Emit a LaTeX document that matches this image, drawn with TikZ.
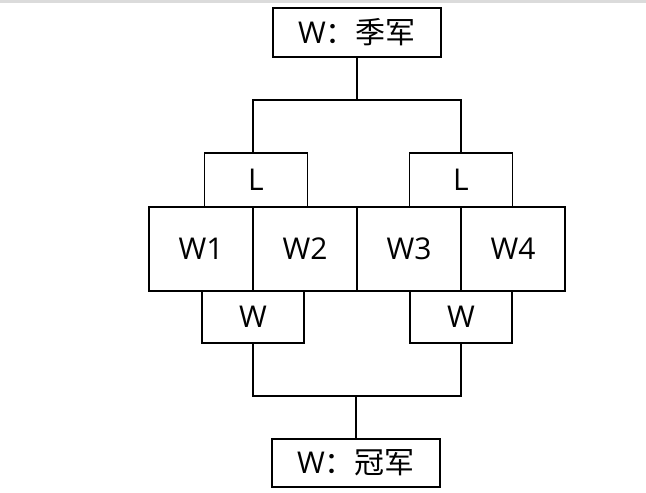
\documentclass[tikz,border=0pt]{standalone}
\usepackage{fontspec}
\setmainfont{Open Sans}
\newfontfamily\cjk{Noto Sans CJK SC}
\usetikzlibrary{positioning}
\tikzset{
  box/.style={rectangle, draw, line width=1.8pt, inner sep=0pt, outer sep=0pt,
    minimum width=104pt, minimum height=84pt, align=center,
    font=\fontsize{30}{34}\selectfont},
  smallbox/.style={box, minimum width=103pt, minimum height=54pt},
  titlebox/.style={box, minimum width=168pt, minimum height=49pt},
  line/.style={line width=1.8pt},
}
\begin{document}
\begin{tikzpicture}[x=1pt, y=-1pt]
    \useasboundingbox (0,0) rectangle (646,493);
    \fill[black!14] (0,0) rectangle (646,2.5);
    % matches row
    \node[box] (w1) at (201,249) {W1};
    \node[box, right=0pt of w1] (w2) {W2};
    \node[box, right=0pt of w2] (w3) {W3};
    \node[box, right=0pt of w3] (w4) {W4};
    % losers and winners of each match
    \node[smallbox, above=0pt of w1.north east, xshift=3pt] (lose1) {L};
    \node[smallbox, above=0pt of w3.north east] (lose2) {L};
    \node[smallbox, minimum width=102pt, minimum height=52pt, below=0pt of w1.south east] (win1) {W};
    \node[smallbox, minimum width=102pt, minimum height=52pt, below=0pt of w3.south east] (win2) {W};
    % final places
    \node[titlebox] (third) at (357,32.5) {W{\cjk ：季军}};
    \node[titlebox, minimum height=48pt] (champ) at (356,463) {W{\cjk ：冠军}};
    \coordinate (topsplit) at (357,100);
    \coordinate (botsplit) at (356,396);
    \coordinate (lose1in) at (253,152);
    \draw[line] (third.south) -- (topsplit);
    \draw[line] (lose1in) |- (topsplit) -| (lose2.north);
    \draw[line] (win1.south) |- (botsplit) -| (win2.south);
    \draw[line] (botsplit) -- (champ.north);
\end{tikzpicture}
\end{document}
